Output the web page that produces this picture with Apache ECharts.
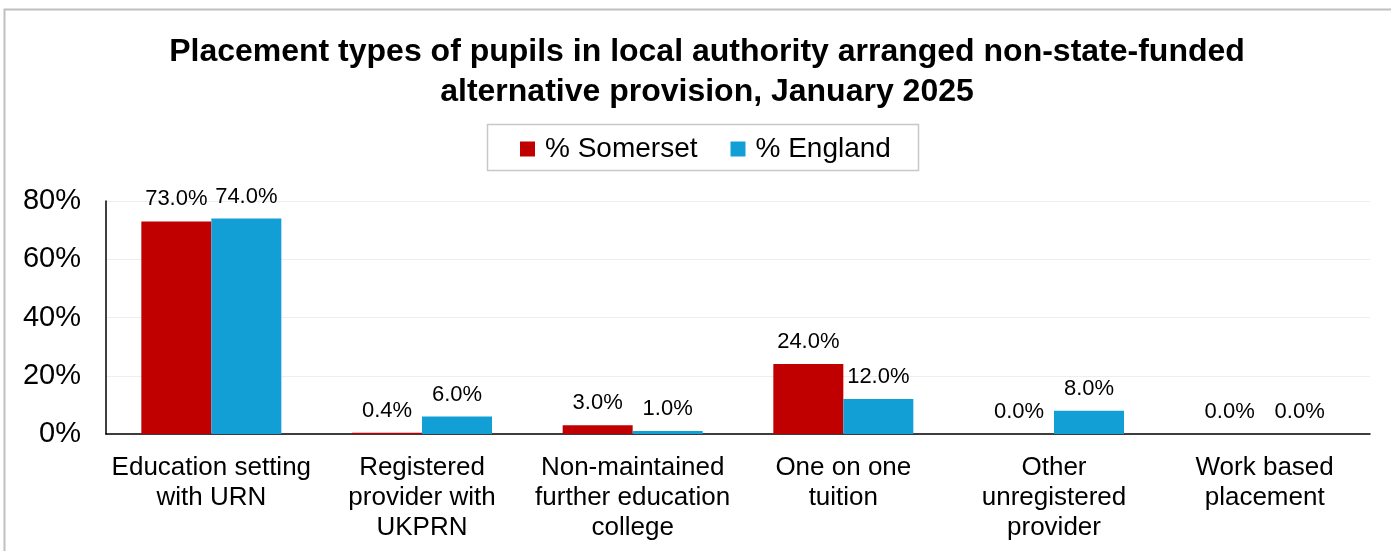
<!DOCTYPE html>
<html>
<head>
<meta charset="utf-8">
<script src="https://cdn.jsdelivr.net/npm/echarts@6/dist/echarts.min.js"></script>
<style>html,body{margin:0;padding:0;background:#fff}#c{width:1391px;height:551px}</style>
</head>
<body>
<div id="c"></div>
<script>
var categories = ['Education setting\nwith URN', 'Registered\nprovider with\nUKPRN', 'Non-maintained\nfurther education\ncollege', 'One on one\ntuition', 'Other\nunregistered\nprovider', 'Work based\nplacement'];
var somerset = [73.0, 0.4, 3.0, 24.0, 0.0, 0.0];
var england = [74.0, 6.0, 1.0, 12.0, 8.0, 0.0];
var yTicks = [0, 20, 40, 60, 80];

var FONT = '"Liberation Sans", Arial, sans-serif';
var chart = echarts.init(document.getElementById('c'));
var labelCfg = {
  show: true, position: 'top', distance: 11,
  color: '#000', fontFamily: FONT, fontSize: 22,
  formatter: function (p) { return p.value.toFixed(1) + '%'; }
};
chart.setOption({
  animation: false,
  backgroundColor: '#fff',
  graphic: [{
    type: 'rect', shape: { x: 4.5, y: 9.5, width: 1420, height: 600 },
    style: { fill: 'none', stroke: '#c0c0c0', lineWidth: 2 }, silent: true, z: -1
  }, {
    type: 'rect', shape: { x: 487.5, y: 124.5, width: 431, height: 46 },
    style: { fill: 'none', stroke: '#c8c8c8', lineWidth: 1.5 }, silent: true
  }],
  title: {
    text: 'Placement types of pupils in local authority arranged non-state-funded\nalternative provision, January 2025',
    left: 702, textAlign: 'center', top: 27,
    textStyle: { fontFamily: FONT, fontWeight: 'bold', fontSize: 32, color: '#000', lineHeight: 40 }
  },
  legend: {
    top: 130, left: 515, itemGap: 33, itemWidth: 15, itemHeight: 15,
    icon: 'rect',
    textStyle: { fontFamily: FONT, fontSize: 28, color: '#000', padding: [0, 0, 0, 5] },
    data: ['% Somerset', '% England']
  },
  grid: { left: 106, right: 21, top: 201, bottom: 117, containLabel: false },
  xAxis: {
    type: 'category', data: categories,
    axisLine: { lineStyle: { color: '#000', width: 1.5 } },
    axisTick: { show: false },
    axisLabel: { color: '#000', fontFamily: FONT, fontSize: 26, lineHeight: 30, margin: 19, interval: 0 }
  },
  yAxis: {
    type: 'value', min: 0, max: 80, interval: 20,
    axisLine: { show: true, lineStyle: { color: '#000', width: 1.5 } },
    axisTick: { show: false },
    splitLine: { show: true, lineStyle: { color: '#eeeeee', width: 1 } },
    axisLabel: { color: '#000', fontFamily: FONT, fontSize: 29, margin: 25,
      formatter: function (v) { return yTicks.indexOf(v) >= 0 ? v + '%' : ''; } }
  },
  series: [{
    name: '% Somerset', type: 'bar', data: somerset, barWidth: 70, barGap: '0%',
    itemStyle: { color: '#c00000' }, label: labelCfg
  }, {
    name: '% England', type: 'bar', data: england, barWidth: 70,
    itemStyle: { color: '#119fd6' }, label: labelCfg
  }]
});
</script>
</body>
</html>
